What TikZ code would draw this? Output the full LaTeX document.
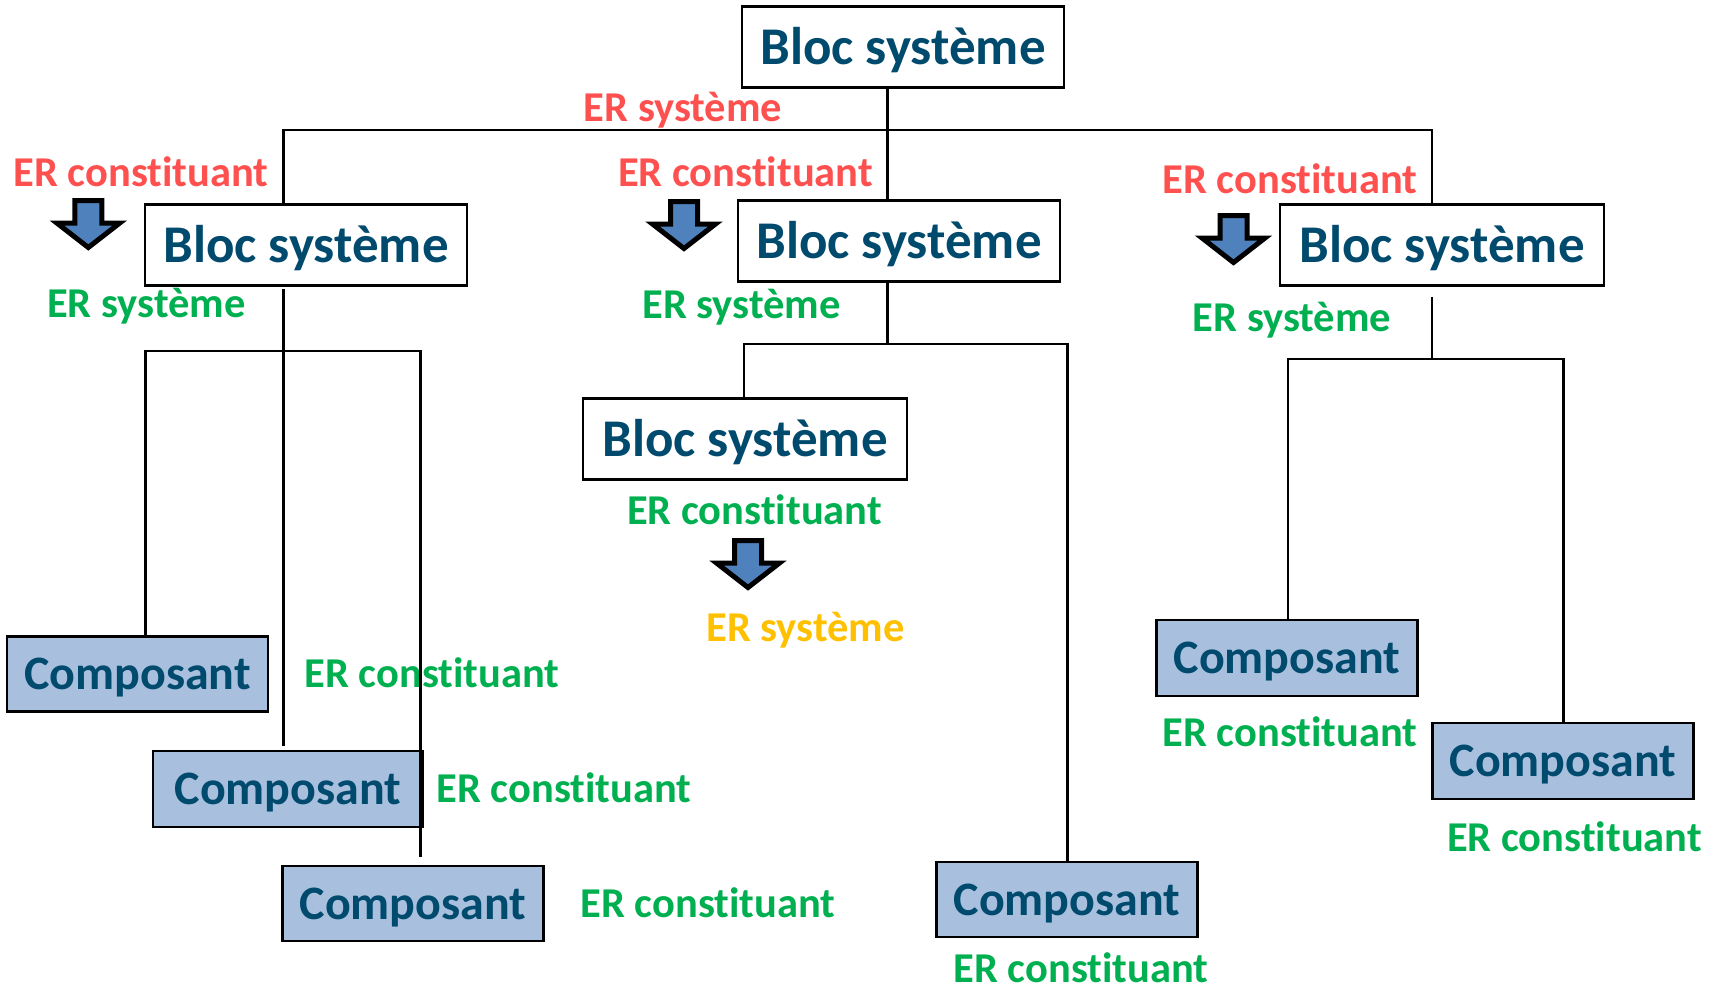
\documentclass[tikz,border=0pt]{standalone}
\usepackage{fontspec}
\setmainfont[RawFeature={-liga}]{Carlito}
\definecolor{blocblue}{RGB}{0,74,110}
\definecolor{compfill}{RGB}{168,192,222}
\definecolor{erred}{HTML}{FF5050}
\definecolor{ergreen}{HTML}{00B050}
\definecolor{erorange}{HTML}{FFC000}
\definecolor{arrowblue}{HTML}{4F81BD}
\begin{document}
\begin{tikzpicture}[x=1pt,y=-1pt,
  bloc/.style={draw=black, line width=2.8pt, fill=white, inner sep=0pt,
    minimum width=322pt, minimum height=81pt, text=blocblue,
    font=\bfseries\fontsize{53}{63}\selectfont, text height=34pt, text depth=0pt},
  comp/.style={draw=black, line width=2.8pt, fill=compfill, inner sep=0pt,
    minimum width=261pt, minimum height=75pt, text=blocblue,
    font=\bfseries\fontsize{48}{58}\selectfont, text height=31pt, text depth=0pt},
  lab/.style={inner sep=0pt, font=\bfseries\fontsize{42.5}{51}\selectfont,
    text height=27.4pt, text depth=0pt},
  link/.style={line width=2.2pt, draw=black},
  downblock/.pic={
    \draw[line width=5pt, miter limit=10, fill=arrowblue]
      (-13.5,2.5) -- (13.5,2.5) -- (13.5,25) -- (31.5,25) -- (0,49.5)
      -- (-31.5,25) -- (-13.5,25) -- cycle;
  }]
\useasboundingbox (0,0) rectangle (1716,989);

% system blocks
\node[bloc] (B0) at (903,47) {Bloc système};
\node[bloc] (L1) at (306,245) {Bloc système};
\node[bloc] (M1) at (899,241) {Bloc système};
\node[bloc, minimum width=324pt] (R1) at (1442,245) {Bloc système};
\node[bloc, minimum width=324pt] (M2) at (745,439) {Bloc système};

% components
\node[comp] (C1) at (137.5,674) {Composant};
\node[comp, minimum width=270pt, minimum height=76pt] (C2) at (288,789) {Composant};
\node[comp] (C3) at (413,903.5) {Composant};
\node[comp] (C4) at (1067,899.5) {Composant};
\node[comp, minimum height=76pt] (C5) at (1287,658) {Composant};
\node[comp, minimum height=76pt] (C6) at (1563,761) {Composant};

% requirement labels
\node[lab, text=erred] (t0) at (683,107.5) {ER système};
\node[lab, text=erred] (t1) at (141,173) {ER constituant};
\node[lab, text=erred] (t2) at (745.5,173) {ER constituant};
\node[lab, text=erred] (t3) at (1290,179.7) {ER constituant};
\node[lab, text=ergreen] (t4) at (146.5,303.3) {ER système};
\node[lab, text=ergreen] (t5) at (741.5,305) {ER système};
\node[lab, text=ergreen] (t6) at (1292,317.5) {ER système};
\node[lab, text=ergreen] (t7) at (754.5,511) {ER constituant};
\node[lab, text=erorange] (t8) at (805.5,627.5) {ER système};
\node[lab, text=ergreen] (t9) at (432,674) {ER constituant};
\node[lab, text=ergreen] (t10) at (564,789) {ER constituant};
\node[lab, text=ergreen] (t11) at (708,903.5) {ER constituant};
\node[lab, text=ergreen] (t12) at (1081,969) {ER constituant};
\node[lab, text=ergreen] (t13) at (1290,732.5) {ER constituant};
\node[lab, text=ergreen] (t14) at (1574.5,837.8) {ER constituant};

% refinement arrows
\pic at (88.3,198) {downblock};
\pic at (684,199) {downblock};
\pic at (1233.5,213) {downblock};
\pic at (748,538) {downblock};

% junction points of the tree
\coordinate (hL) at (283.5,130);
\coordinate (hC) at (887.5,130);
\coordinate (hR) at (1432,130);
\coordinate (lA) at (145.5,351);
\coordinate (lB) at (420.5,351);
\coordinate (mA) at (744,344);
\coordinate (mB) at (1067.5,344);
\coordinate (mJ) at (887.5,344);
\coordinate (rA) at (1288,359);
\coordinate (rB) at (1563.5,359);
\coordinate (rJ) at (1432,359);

% top level
\draw[link] (L1.north -| hL) -- (hL) -- (hR) -- (R1.north -| hR);
\draw[link] (B0.south -| hC) -- (M1.north -| hC);

% left branch
\draw[link, shorten <=2pt, shorten >=4pt] (L1.south -| hL) -- (C2.north -| hL);
\draw[link, shorten >=8pt] (C1.north -| lA) -- (lA) -- (lB) -- (C3.north -| lB);
\draw[link, shorten >=8pt] (lA) -- (C1.north -| lA);

% middle branch
\draw[link] (M1.south -| mJ) -- (mJ);
\draw[link] (M2.north -| mA) -- (mA) -- (mB) -- (C4.north -| mB);

% right branch
\draw[link, shorten <=10pt] (R1.south -| rJ) -- (rJ);
\draw[link] (C5.north -| rA) -- (rA) -- (rB) -- (C6.north -| rB);
\end{tikzpicture}
\end{document}
